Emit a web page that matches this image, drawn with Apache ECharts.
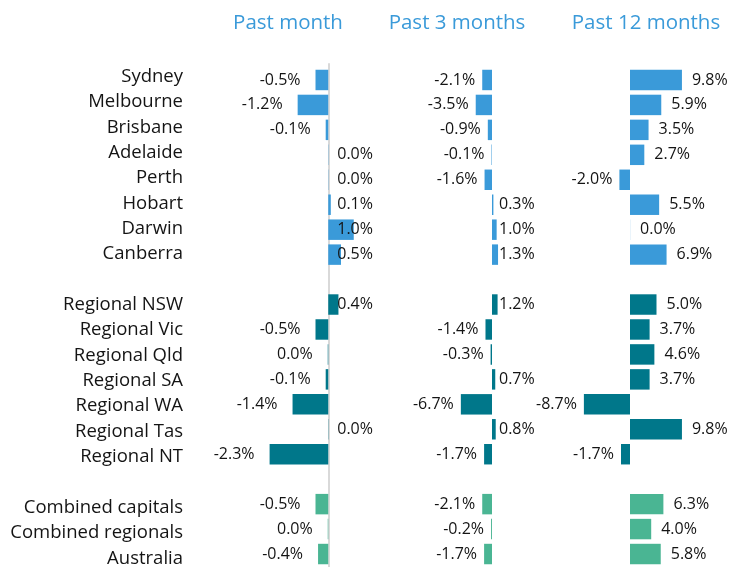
<!DOCTYPE html>
<html><head><meta charset="utf-8">
<script src="https://cdn.jsdelivr.net/npm/echarts@6/dist/echarts.min.js"></script>
<style>html,body{margin:0;padding:0;background:#fff}#c{width:735px;height:567px}</style>
</head><body><div id="c"></div>
<script>
// ---- data ----
const categories = ['Sydney','Melbourne','Brisbane','Adelaide','Perth','Hobart','Darwin','Canberra','',
  'Regional NSW','Regional Vic','Regional Qld','Regional SA','Regional WA','Regional Tas','Regional NT','',
  'Combined capitals','Combined regionals','Australia'];
const groups = ['cap','cap','cap','cap','cap','cap','cap','cap','',
  'reg','reg','reg','reg','reg','reg','reg','',
  'comb','comb','comb'];
const pastMonth = [-0.5,-1.2,-0.1,0.01,0.01,0.1,1.0,0.5,null,
  0.4,-0.5,-0.02,-0.1,-1.4,0.01,-2.3,null,
  -0.5,-0.02,-0.4];
const past3Months = [-2.1,-3.5,-0.9,-0.1,-1.6,0.3,1.0,1.3,null,
  1.2,-1.4,-0.3,0.7,-6.7,0.8,-1.7,null,
  -2.1,-0.2,-1.7];
const past12Months = [9.8,5.9,3.5,2.7,-2.0,5.5,0.02,6.9,null,
  5.0,3.7,4.6,3.7,-8.7,9.8,-1.7,null,
  6.3,4.0,5.8];
const panelTitles = ['Past month','Past 3 months','Past 12 months'];

// ---- style ----
const groupColors = {cap:'#3A9AD9', reg:'#00778A', comb:'#4AB593'};
const FONT = 'Open Sans';
const TXT = '#141414';
const fmt = v => (Math.abs(v) < 0.05 ? '0.0' : v.toFixed(1)) + '%';

const panels = [
  {data: pastMonth, left: 264.5, width: 102, min: -2.5, max: 1.5, negDist: 15, pos: 'insideLeft', posDist: 9, titleX: 288},
  {data: past3Months, left: 454.8, width: 46.5, min: -8, max: 2, negDist: 7, pos: 'insideLeft', posDist: 7, titleX: 457},
  {data: past12Months, left: 577, width: 106, min: -10, max: 10, negDist: 7, pos: 'right', posDist: 10, titleX: 646}
];

const grids = [], xAxes = [], yAxes = [], series = [], titles = [];
panels.forEach((p, i) => {
  grids.push({left: p.left, width: p.width, top: 67.5, height: 499, outerBoundsMode: 'none', containLabel: false});
  xAxes.push({type: 'value', gridIndex: i, min: p.min, max: p.max, show: false, splitLine: {show: false}});
  yAxes.push({
    type: 'category', gridIndex: i, data: categories, inverse: true,
    axisTick: {show: false}, axisLine: {show: false}, axisLabel: {show: false}
  });
  titles.push({text: panelTitles[i], left: p.titleX - 5, top: 8, textAlign: 'center',
    textStyle: {fontFamily: FONT, fontSize: 20.5, fontWeight: 'normal', color: '#3A9AD9'}});
  series.push({
    type: 'bar', xAxisIndex: i, yAxisIndex: i, barCategoryGap: '18%',
    data: p.data.map((v, k) => v === null ? null : ({
      value: v,
      itemStyle: {color: groupColors[groups[k]]},
      label: v < 0 ? {position: 'left', distance: p.negDist}
                   : {position: p.pos, distance: p.posDist}
    })),
    label: {show: true, fontFamily: FONT, fontSize: 16, color: TXT,
      formatter: q => fmt(q.value)},
    animation: false
  });
});

// category label axis + zero line for the first panel
grids.push({left: panels[0].left, width: panels[0].width, top: 64, height: 507, outerBoundsMode: 'none', containLabel: false});
xAxes.push({type: 'value', gridIndex: 3, min: panels[0].min, max: panels[0].max, show: false, splitLine: {show: false}});
yAxes.push({
  type: 'category', gridIndex: 3, data: categories, inverse: true,
  axisTick: {show: false},
  axisLine: {show: true, onZero: true, lineStyle: {color: '#d9d9d9', width: 2}},
  axisLabel: {margin: 81.5, fontFamily: FONT, fontSize: 18.5, color: TXT}
});

const chart = echarts.init(document.getElementById('c'));
chart.setOption({animation: false, title: titles, grid: grids, xAxis: xAxes, yAxis: yAxes, series: series});
</script></body></html>
